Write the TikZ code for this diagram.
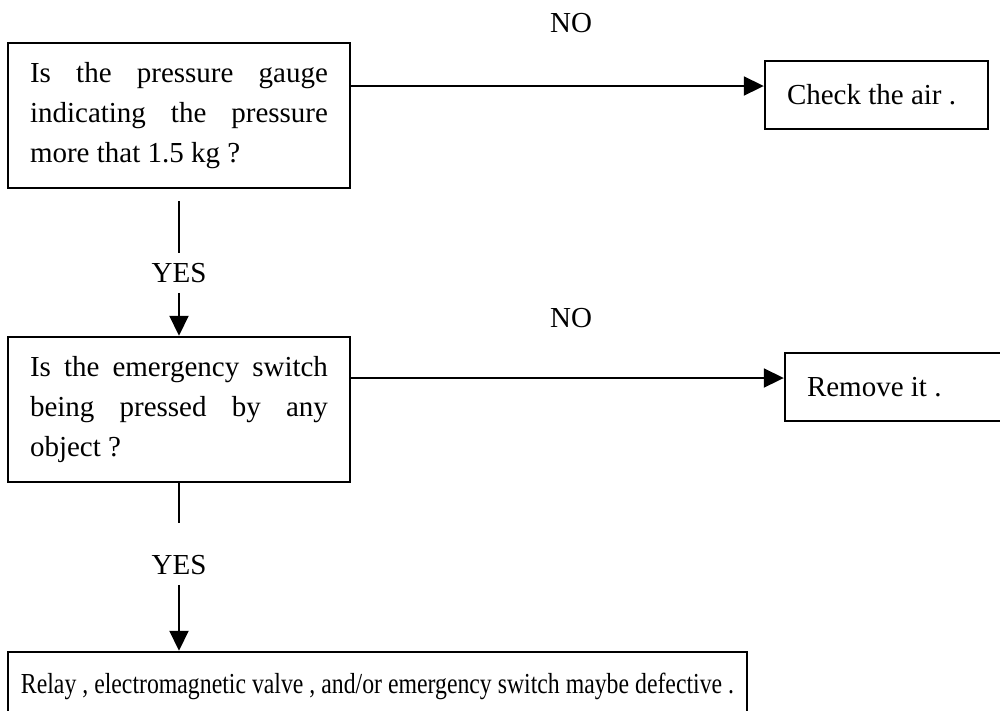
\documentclass[tikz,border=0pt]{standalone}
\usepackage{fontspec}
\setmainfont{Liberation Serif}
\usetikzlibrary{arrows.meta}

\newcommand{\spreadline}[1]{\makebox[5.96cm][s]{#1}}

\begin{document}
\begin{tikzpicture}[x=.02cm,y=-.02cm,every node/.style={font=\fontsize{16.5}{23}\selectfont,
    execute at begin node={\spaceskip=0pt\xspaceskip=0pt}},
  box/.style={draw,line width=1.4pt,inner sep=0pt},
  qbox/.style={box,minimum width=6.84cm,minimum height=2.9cm,text width=5.96cm,align=left},
  abox/.style={box,minimum height=1.36cm,inner xsep=.44cm,align=left},
  line/.style={line width=1.1pt},
  flow/.style={line,-{Triangle[length=.4cm,width=.38cm]}},
  word/.style={inner sep=.2cm,text height=.38cm,text depth=0pt}]

  \useasboundingbox (0,0) rectangle (1000,710);
  \clip (0,0) rectangle (1000,710);

  % questions
  \node[qbox] (q1) at (179,115.5) {\spreadline{Is the pressure gauge}\\
    \spreadline{indicating the pressure}\\ more that 1.5 kg ?};
  \node[qbox] (q2) at (179,409.5) {\spreadline{Is the emergency switch}\\
    \spreadline{being pressed by any}\\ object ?};

  % answers
  \node[abox,text width=3.58cm] (air) at (876.5,95) {Check the air .};
  \node[abox,text width=3.92cm] (remove) at (905,387) {Remove it .};
  \node[box,minimum width=14.78cm,minimum height=1.36cm] (defect) at (377.5,686)
    {\scalebox{.82}[1]{Relay , electromagnetic valve , and/or emergency switch maybe defective .}};

  % labels
  \node[word] (no1) at (571,23) {NO};
  \node[word] (no2) at (571,318) {NO};
  \node[word] (yes1) at (179,273) {YES};
  \node[word] (yes2) at (179,565) {YES};

  % no branches
  \coordinate (n1) at ([yshift=.59cm]q1.east);
  \coordinate (n2) at ([yshift=.63cm]q2.east);
  \draw[flow] (n1) -- (n1 -| air.west);
  \draw[flow] (n2) -- (n2 -| remove.west);

  % yes branches
  \draw[line,shorten <=.24cm] (q1.south) -- (yes1.north);
  \draw[flow] (yes1.south) -- (q2.north);
  \draw[line,shorten >=.45cm] (q2.south) -- (yes2.north);
  \draw[flow] (yes2.south) -- (yes2.south |- defect.north);

\end{tikzpicture}
\end{document}
